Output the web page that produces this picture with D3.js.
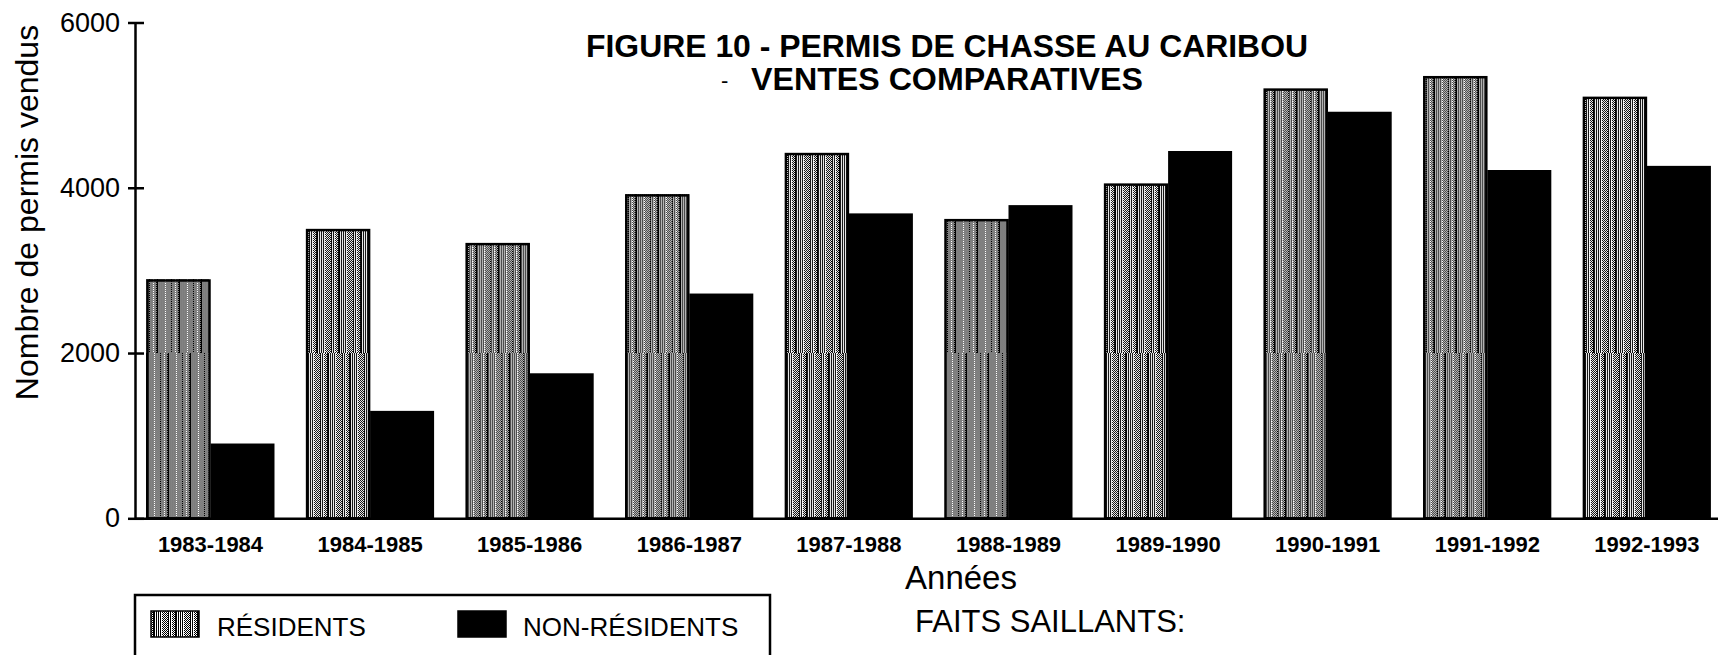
<!DOCTYPE html>
<html>
<head>
<meta charset="utf-8">
<script src="https://cdn.jsdelivr.net/npm/d3@7"></script>
<style>
  html, body { margin: 0; padding: 0; background: #fff; }
  svg { display: block; font-family: "Liberation Sans", Arial, Helvetica, sans-serif; }
</style>
</head>
<body>
<svg id="chart" width="1718" height="655"></svg>
<script>
// ---------------- data ----------------
const categories = ["1983-1984", "1984-1985", "1985-1986", "1986-1987", "1987-1988",
                    "1988-1989", "1989-1990", "1990-1991", "1991-1992", "1992-1993"];
const residents    = [2890, 3500, 3330, 3920, 4420, 3620, 4050, 5200, 5350, 5100];
const nonResidents = [905, 1300, 1755, 2720, 3690, 3790, 4445, 4920, 4215, 4265];
const yTicks = [0, 2000, 4000, 6000];
const seriesNames = ["RÉSIDENTS", "NON-RÉSIDENTS"];
const titleLine1 = "FIGURE 10 - PERMIS DE CHASSE AU CARIBOU";
const titleLine2 = "VENTES COMPARATIVES";
const yLabel = "Nombre de permis vendus";
const xLabel = "Années";
const notesHeading = "FAITS SAILLANTS:";

// ---------------- setup ----------------
const svg = d3.select("#chart");
const defs = svg.append("defs");

// texture: bands of vertical rules and of fine dot screen, like the scanned hatch
function makePattern(id, offset) {
  const w = 22, h = 4;
  const p = defs.append("pattern")
    .attr("id", id)
    .attr("patternUnits", "userSpaceOnUse")
    .attr("width", w).attr("height", h)
    .attr("patternTransform", `translate(${offset},0)`);
  p.append("rect").attr("width", w).attr("height", h).attr("fill", "#fff");
  for (let x = 0; x < 7; x += 2)
    p.append("rect").attr("x", x).attr("y", 0).attr("width", 1).attr("height", h).attr("fill", "#000");
  for (let x = 8; x < 14; x++)
    for (let yy = 0; yy < h; yy++)
      if ((x + yy) % 2 === 0)
        p.append("rect").attr("x", x).attr("y", yy).attr("width", 1).attr("height", 1).attr("fill", "#000");
  for (let x = 14; x < 18; x += 2)
    p.append("rect").attr("x", x).attr("y", 0).attr("width", 1).attr("height", h).attr("fill", "#000");
  for (let x = 18; x < w; x++)
    for (let yy = 0; yy < h; yy += 2)
      p.append("rect").attr("x", x).attr("y", yy + (x % 2)).attr("width", 1).attr("height", 1).attr("fill", "#000");
  p.append("rect").attr("x", 21).attr("y", 0).attr("width", 1).attr("height", h).attr("fill", "#000");
}
makePattern("resLow", 0);
makePattern("resHigh", 11);

const x0 = d3.scaleBand().domain(categories).range([135, 1722.4])
  .paddingInner(0.198).paddingOuter(0.072);
const x1 = d3.scaleBand().domain(["res", "non"]).range([0, x0.bandwidth()]);
const y = d3.scaleLinear().domain([0, 6000]).range([518.3, 22.5]);

const data = categories.map((c, i) => ({ c, res: residents[i], non: nonResidents[i] }));

// ---------------- bars ----------------
const groups = svg.append("g").selectAll("g").data(data).join("g")
  .attr("transform", d => `translate(${x0(d.c)},0)`);

const split = 2000;
groups.append("rect")
  .attr("x", x1("res")).attr("width", x1.bandwidth())
  .attr("y", d => y(Math.min(d.res, split)))
  .attr("height", d => y(0) - y(Math.min(d.res, split)))
  .attr("fill", "url(#resLow)").attr("shape-rendering", "crispEdges");
groups.filter(d => d.res > split).append("rect")
  .attr("x", x1("res")).attr("width", x1.bandwidth())
  .attr("y", d => y(d.res))
  .attr("height", d => y(split) - y(d.res))
  .attr("fill", "url(#resHigh)").attr("shape-rendering", "crispEdges");
groups.append("rect")
  .attr("x", x1("res") + 1).attr("width", x1.bandwidth() - 2)
  .attr("y", d => y(d.res) + 1)
  .attr("height", d => y(0) - y(d.res) - 1)
  .attr("fill", "none").attr("stroke", "#000").attr("stroke-width", 2.5);

groups.append("rect")
  .attr("x", x1("non")).attr("width", x1.bandwidth())
  .attr("y", d => y(d.non))
  .attr("height", d => y(0) - y(d.non))
  .attr("fill", "#000");

// ---------------- axes ----------------
const yAxisG = svg.append("g").attr("transform", "translate(135,0)")
  .call(d3.axisLeft(y).tickValues(yTicks).tickSize(7).tickSizeOuter(0).tickPadding(8).tickFormat(d3.format("d")));
yAxisG.select(".domain").attr("stroke", "#000").attr("stroke-width", 2.5);
yAxisG.selectAll(".tick line").attr("x1", 9).attr("stroke", "#000").attr("stroke-width", 2.5);
yAxisG.selectAll(".tick text").attr("font-size", 27).attr("fill", "#000")
  .attr("font-family", "'Liberation Sans', Arial, sans-serif");

const xAxisG = svg.append("g").attr("transform", `translate(0,${y(0)})`)
  .call(d3.axisBottom(x0).tickSize(0).tickSizeOuter(0).tickPadding(18));
xAxisG.select(".domain").attr("stroke", "#000").attr("stroke-width", 2.5);
xAxisG.selectAll(".tick text").attr("font-size", 22).attr("font-weight", "bold").attr("fill", "#000")
  .attr("font-family", "'Liberation Sans', Arial, sans-serif");

// ---------------- titles ----------------
svg.append("text").attr("x", 586).attr("y", 57)
  .attr("font-size", 32).attr("font-weight", "bold")
  .attr("textLength", 722).attr("lengthAdjust", "spacingAndGlyphs")
  .text(titleLine1);
svg.append("text").attr("x", 721).attr("y", 88).attr("font-size", 22).text("-");
svg.append("text").attr("x", 751).attr("y", 90)
  .attr("font-size", 32).attr("font-weight", "bold")
  .attr("textLength", 392).attr("lengthAdjust", "spacingAndGlyphs")
  .text(titleLine2);

svg.append("text").attr("transform", "translate(38,212.5) rotate(-90)")
  .attr("text-anchor", "middle").attr("font-size", 32).text(yLabel);

svg.append("text").attr("x", 961).attr("y", 589)
  .attr("text-anchor", "middle").attr("font-size", 33).text(xLabel);

svg.append("text").attr("x", 915).attr("y", 632)
  .attr("font-size", 31).text(notesHeading);

// ---------------- legend ----------------
svg.append("path").attr("d", "M135,662V595H770V662")
  .attr("fill", "none").attr("stroke", "#000").attr("stroke-width", 2.5);
const legendItems = [
  { name: seriesNames[0], fill: "url(#resLow)", sx: 151, tx: 217 },
  { name: seriesNames[1], fill: "#000", sx: 458, tx: 523 }
];
const lg = svg.append("g").selectAll("g").data(legendItems).join("g");
lg.append("rect").attr("x", d => d.sx).attr("y", 611).attr("width", 48).attr("height", 26)
  .attr("fill", d => d.fill).attr("stroke", "#000").attr("stroke-width", 1.5);
lg.append("text").attr("x", d => d.tx).attr("y", 636).attr("font-size", 26).text(d => d.name);
</script>
</body>
</html>
